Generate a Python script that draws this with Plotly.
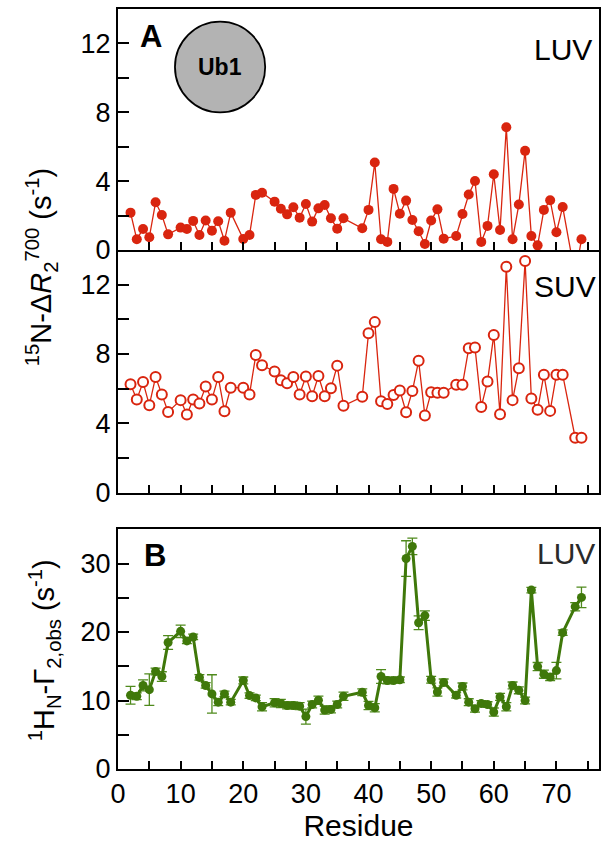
import plotly.graph_objects as go

# Residues and relaxation data for Ub1
residues_A = [2, 3, 4, 5, 6, 7, 8, 10, 11, 12, 13, 14, 15, 16, 17, 18, 20, 21, 22, 23,
              25, 26, 27, 28, 29, 30, 31, 32, 33, 34, 35, 36, 39, 40, 41, 42, 43, 44, 45,
              46, 47, 48, 49, 50, 51, 52, 54, 55, 56, 57, 58, 59, 60, 61, 62, 63, 64, 65,
              66, 67, 68, 69, 70, 71, 73, 74]
dR2_luv = [2.17, 0.62, 1.22, 0.74, 2.77, 2.03, 0.91, 1.30, 1.22, 1.69, 0.87, 1.71, 1.12,
           1.67, 0.54, 2.17, 0.64, 0.87, 3.20, 3.33, 2.81, 2.40, 2.07, 2.48, 1.88, 2.67,
           1.65, 2.42, 2.61, 1.84, 1.24, 1.84, 1.26, 2.33, 5.08, 0.62, 0.47, 3.55, 2.11,
           2.87, 1.74, 1.09, 0.35, 1.71, 2.36, 0.66, 0.81, 2.09, 3.22, 4.01, 0.47, 1.40,
           4.40, 1.16, 7.13, 0.62, 2.64, 5.76, 0.81, 0.27, 2.33, 2.89, 1.03, 2.50, -1.50,
           0.62]
dR2_suv = [6.25, 5.38, 6.38, 5.05, 6.67, 5.67, 4.66, 5.34, 4.51, 5.38, 5.15, 6.12, 5.38,
           6.67, 4.70, 6.06, 6.06, 5.67, 7.94, 7.35, 6.99, 6.48, 6.31, 6.67, 5.67, 6.70,
           5.57, 6.73, 5.57, 6.02, 7.33, 5.01, 5.53, 9.20, 9.84, 5.28, 5.11, 5.63, 5.90,
           4.64, 5.86, 7.61, 4.45, 5.80, 5.77, 5.77, 6.23, 6.23, 8.33, 8.38, 4.95, 6.41,
           9.10, 4.53, 13.03, 5.34, 7.18, 13.36, 5.44, 4.78, 6.81, 4.72, 6.81, 6.81, 3.17,
           3.17]

residues_B = [2, 3, 4, 5, 6, 7, 8, 10, 11, 12, 13, 14, 15, 16, 17, 18, 20, 21, 22, 23,
              25, 26, 27, 28, 29, 30, 31, 32, 33, 34, 35, 36, 39, 40, 41, 42, 43, 44, 45,
              46, 47, 48, 49, 50, 51, 52, 54, 55, 56, 57, 58, 59, 60, 61, 62, 63, 64, 65,
              66, 67, 68, 69, 70, 71, 73, 74]
gamma2_luv = [10.77, 10.62, 12.20, 11.59, 14.23, 13.50, 18.47, 20.10, 18.70, 19.28, 13.37,
              12.20, 10.96, 9.76, 10.96, 9.76, 12.93, 10.72, 10.38, 9.09, 9.67, 9.57, 9.28,
              9.28, 9.18, 7.65, 9.42, 10.04, 8.60, 8.70, 9.42, 10.62, 11.20, 9.28, 8.95,
              13.50, 12.93, 12.93, 13.03, 30.73, 32.50, 21.36, 22.40, 13.03, 11.25, 12.64,
              10.77, 12.06, 9.76, 8.80, 9.57, 9.42, 8.31, 10.53, 9.09, 12.20, 11.49, 10.00,
              26.12, 14.95, 13.85, 13.42, 14.37, 19.91, 23.70, 25.05]
gamma2_err = [1.3, 0.5, 0.8, 2.3, 0.5, 0.7, 1.0, 0.9, 0.4, 0.4, 0.4, 0.4, 2.8, 0.5, 0.4,
              0.4, 0.5, 0.4, 0.4, 0.6, 0.6, 0.6, 0.5, 0.5, 0.5, 1.1, 0.5, 0.6, 0.6, 0.5,
              0.5, 0.6, 0.5, 0.6, 0.6, 1.0, 0.5, 0.4, 0.4, 2.6, 1.2, 1.0, 0.7, 0.5, 0.6,
              0.5, 0.4, 0.5, 0.5, 0.5, 0.4, 0.4, 0.6, 0.5, 0.6, 0.5, 0.5, 0.5, 0.4, 0.6,
              0.6, 0.5, 1.2, 0.4, 0.6, 1.5]

RED = "#d9250f"
GREEN = "#3f780a"
FONT = "Liberation Sans, Arial, Helvetica, sans-serif"

W, H = 602, 843
ML, MR, MT, MB = 118, 1, 9, 74
PW, PH = W - ML - MR, H - MT - MB


def px_x(px):
    return (px - ML) / PW


def px_y(py):
    return (H - MB - py) / PH


fig = go.Figure()

fig.add_trace(go.Scatter(
    x=residues_A, y=dR2_luv, mode="lines+markers", xaxis="x3", yaxis="y3",
    line=dict(color=RED, width=1.3),
    marker=dict(color=RED, size=10, line=dict(width=0)),
    showlegend=False))

fig.add_trace(go.Scatter(
    x=residues_A, y=dR2_suv, mode="lines+markers", xaxis="x2", yaxis="y2",
    line=dict(color=RED, width=1.3),
    marker=dict(color="white", size=10, line=dict(color=RED, width=2)),
    showlegend=False))

fig.add_trace(go.Scatter(
    x=residues_B, y=gamma2_luv, mode="lines+markers", xaxis="x", yaxis="y",
    line=dict(color=GREEN, width=3),
    marker=dict(color=GREEN, size=9, line=dict(width=0)),
    error_y=dict(type="data", array=gamma2_err, visible=True,
                 color="#4f8a1c", thickness=1.3, width=5),
    showlegend=False))

y_top = px_y(250)
y_mid_bot = px_y(492.7)
y_bot_top = px_y(529.3)

tickfont = dict(family=FONT, size=27, color="black")
minor_x = dict(ticks="inside", ticklen=8, tickwidth=1.5, tickcolor="black",
               dtick=5, showgrid=False)
common_x = dict(range=[0, 76.8], showline=True, linewidth=2, linecolor="black",
                ticks="inside", ticklen=8, tickwidth=1.5, tickcolor="black",
                dtick=10, tick0=0, showgrid=False, zeroline=False,
                minor=minor_x, tickfont=tickfont)
common_y = dict(showline=True, linewidth=2, linecolor="black", mirror=True,
                ticks="inside", ticklen=11, tickwidth=1.5, tickcolor="black",
                showgrid=False, zeroline=False, tickfont=tickfont)

fig.update_layout(
    width=W, height=H,
    margin=dict(l=ML, r=MR, t=MT, b=MB),
    paper_bgcolor="white", plot_bgcolor="white",
    font=dict(family=FONT, color="black"),
    xaxis=dict(**common_x, anchor="y", domain=[0, 1], mirror=True,
               title=dict(text="Residue", font=dict(family=FONT, size=30), standoff=4)),
    # the middle panel shares its top edge with panel A's bottom axis line
    xaxis2=dict(**common_x, anchor="y2", domain=[0, 1], mirror=False,
                showticklabels=False),
    xaxis3=dict(**common_x, anchor="y3", domain=[0, 1], mirror=True,
                showticklabels=False),
    yaxis=dict(**common_y, anchor="x", domain=[0, y_bot_top], range=[0, 35],
               dtick=10, tick0=0,
               minor=dict(ticks="inside", ticklen=11, tickwidth=1.5, tickcolor="black",
                          dtick=5, showgrid=False)),
    yaxis2=dict(**common_y, anchor="x2", domain=[y_mid_bot, y_top], range=[0, 14],
                dtick=4, tick0=0,
                minor=dict(ticks="inside", ticklen=11, tickwidth=1.5, tickcolor="black",
                           dtick=2, showgrid=False)),
    yaxis3=dict(**common_y, anchor="x3", domain=[y_top, 1], range=[0, 14],
                dtick=4, tick0=0,
                minor=dict(ticks="inside", ticklen=11, tickwidth=1.5, tickcolor="black",
                           dtick=2, showgrid=False)),
)

# Ub1 marker circle in panel A
cx, cy, r = 220.5, 67, 45.3
fig.add_shape(type="circle", xref="paper", yref="paper",
              x0=px_x(cx - r), x1=px_x(cx + r), y0=px_y(cy + r), y1=px_y(cy - r),
              fillcolor="#b3b3b3", line=dict(color="black", width=1.8), layer="above")

ann = [
    dict(text="<b>Ub1</b>", x=px_x(cx), y=px_y(cy), size=23, color="black"),
    dict(text="<b>A</b>", x=px_x(151), y=px_y(36), size=31, color="black"),
    dict(text="<b>B</b>", x=px_x(155), y=px_y(555), size=31, color="black"),
    dict(text="LUV", x=px_x(565), y=px_y(49), size=30, color="black"),
    dict(text="SUV", x=px_x(566.5), y=px_y(286.5), size=30, color="black"),
    dict(text="LUV", x=px_x(568), y=px_y(553), size=30, color="#2a2a2a"),
]
for a in ann:
    fig.add_annotation(text=a["text"], x=a["x"], y=a["y"], xref="paper", yref="paper",
                       xanchor="center", yanchor="middle", showarrow=False,
                       font=dict(family=FONT, size=a["size"], color=a["color"]))

# Rotated y-axis titles
fig.add_annotation(text="<sup>15</sup>N-Δ<i>R</i><sub>2</sub><sup>700</sup> (s<sup>-1</sup>)",
                   x=px_x(41), y=px_y(267), xref="paper", yref="paper",
                   xanchor="center", yanchor="middle", textangle=-90, showarrow=False,
                   font=dict(family=FONT, size=29, color="black"))
fig.add_annotation(text="<sup>1</sup>H<sub>N</sub>-Γ<sub>2,obs</sub> (s<sup>-1</sup>)",
                   x=px_x(44), y=px_y(650), xref="paper", yref="paper",
                   xanchor="center", yanchor="middle", textangle=-90, showarrow=False,
                   font=dict(family=FONT, size=29, color="black"))

fig.write_html("out.html")
